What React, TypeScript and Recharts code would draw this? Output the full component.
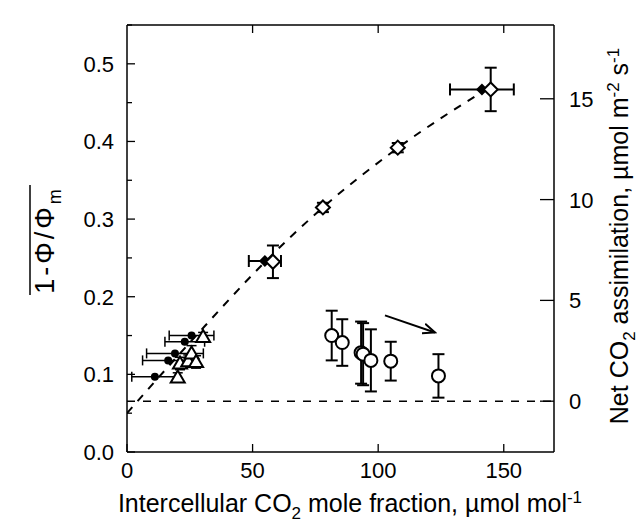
import React from 'react';
import {
  ComposedChart,
  Scatter,
  Line,
  XAxis,
  YAxis,
  ErrorBar
} from 'recharts';

// tick values
const xTicks = [0, 50, 100, 150];
const leftTicks = [0, 0.05, 0.1, 0.15, 0.2, 0.25, 0.3, 0.35, 0.4, 0.45, 0.5, 0.55];
const rightTicks = [0, 5, 10, 15];

// small filled circles, horizontal error bars
const dotCi = [11.1, 16.4, 19.1, 23.0, 25.7];
const dotPhi = [0.097, 0.118, 0.127, 0.142, 0.150];
const dotCiErr = [9.2, 10.2, 11.3, 7.9, 8.9];

// open triangles
const triCi = [20.2, 21.1, 24.4, 25.7, 27.5, 30.3];
const triPhi = [0.096, 0.114, 0.117, 0.127, 0.116, 0.148];
const triErr = [0.006, 0.008, 0.008, 0.01, 0.008, 0.006];

// open circles
const circCi = [81.5, 85.7, 93.2, 94.0, 97.1, 105.0, 124.0];
const circPhi = [0.150, 0.141, 0.128, 0.126, 0.118, 0.117, 0.098];
const circErr = [0.032, 0.03, 0.04, 0.04, 0.04, 0.025, 0.028];

// filled diamonds, horizontal error bars
const fdCi = [54.9, 141.3];
const fdPhi = [0.246, 0.467];
const fdCiErr = [6.4, 12.7];

// open diamonds
const odCi = [58.1, 78.0, 107.8, 144.8];
const odPhi = [0.245, 0.315, 0.392, 0.467];
const odErr = [0.021, 0.006, 0.006, 0.028];

// dashed fit through the diamonds
const fitCi = [0, 27, 55, 78, 108, 143];
const fitPhi = [0.05, 0.148, 0.245, 0.315, 0.392, 0.467];

// zero assimilation line (right axis)
const zeroCi = [0, 170];
const zeroA = [0, 0];

// arrow
const arrowCi = [102.7, 122.6];
const arrowPhi = [0.176, 0.154];

const FONT = '"Liberation Sans", Arial, Helvetica, sans-serif';

const dots = dotCi.map((x, i) => ({ x, y: dotPhi[i], ex: dotCiErr[i] }));
const tris = triCi.map((x, i) => ({ x, y: triPhi[i], ey: triErr[i] }));
const circs = circCi.map((x, i) => ({ x, y: circPhi[i], ey: circErr[i] }));
const fDiamonds = fdCi.map((x, i) => ({ x, y: fdPhi[i], ex: fdCiErr[i] }));
const oDiamonds = odCi.map((x, i) => ({ x, y: odPhi[i], ey: odErr[i] }));
const fit = fitCi.map((x, i) => ({ x, y: fitPhi[i] }));
const zero = zeroCi.map((x, i) => ({ x, y: zeroA[i] }));
const arrow = arrowCi.map((x, i) => ({ x, y: arrowPhi[i] }));

const SmallDot = (p: any) => <circle cx={p.cx} cy={p.cy} r={4} fill="#000" />;
const OpenCircle = (p: any) => (
  <circle cx={p.cx} cy={p.cy} r={6.5} fill="#fff" stroke="#000" strokeWidth={2} />
);
const Triangle = (p: any) => {
  const { cx, cy } = p;
  return (
    <polygon
      points={`${cx},${cy - 7} ${cx + 7},${cy + 5} ${cx - 7},${cy + 5}`}
      fill="#fff"
      stroke="#000"
      strokeWidth={2}
    />
  );
};
const FilledDiamond = (p: any) => {
  const { cx, cy } = p;
  return <polygon points={`${cx},${cy - 6} ${cx + 6},${cy} ${cx},${cy + 6} ${cx - 6},${cy}`} fill="#000" />;
};
const OpenDiamond = (p: any) => {
  const { cx, cy } = p;
  return (
    <polygon
      points={`${cx},${cy - 7} ${cx + 7},${cy} ${cx},${cy + 7} ${cx - 7},${cy}`}
      fill="#fff"
      stroke="#000"
      strokeWidth={2}
    />
  );
};

const TICK_FONT = 22;

const LeftTick = (p: any) => {
  const v = p.payload.value;
  const major = Math.round(v * 100) % 10 === 0;
  const ax = p.x + 13;
  return (
    <g>
      <line x1={ax} x2={ax + (major ? 8 : 5)} y1={p.y} y2={p.y} stroke="#000" strokeWidth={1.3} />
      {major && (
        <text x={p.x} y={p.y} dy="0.36em" textAnchor="end" fontSize={TICK_FONT} fontFamily={FONT} fill="#000">
          {v.toFixed(1)}
        </text>
      )}
    </g>
  );
};

const RightTick = (p: any) => {
  const ax = p.x - 15;
  return (
    <g>
      <line x1={ax} x2={ax - 14} y1={p.y} y2={p.y} stroke="#000" strokeWidth={1.3} />
      <text x={p.x} y={p.y} dy="0.36em" textAnchor="start" fontSize={TICK_FONT} fontFamily={FONT} fill="#000">
        {p.payload.value}
      </text>
    </g>
  );
};

const BottomTick = (p: any) => {
  const ay = p.y - 10;
  return (
    <g>
      <line x1={p.x} x2={p.x} y1={ay} y2={ay - 8} stroke="#000" strokeWidth={1.3} />
      <text x={p.x} y={p.y} dy="0.71em" textAnchor="middle" fontSize={TICK_FONT} fontFamily={FONT} fill="#000">
        {p.payload.value}
      </text>
    </g>
  );
};

const TopTick = (p: any) => (
  <line x1={p.x} x2={p.x} y1={p.y} y2={p.y + 8} stroke="#000" strokeWidth={1.3} />
);

const axisStroke = { stroke: '#000', strokeWidth: 1.5 };

export default function App() {
  return (
    <div style={{ position: 'relative', width: 642, height: 530, background: '#fff' }}>
      <style>{'body{margin:0}'}</style>
      <ComposedChart width={642} height={530} margin={{ top: 25, right: 0, bottom: 0, left: 0 }}>
        <XAxis
          dataKey="x"
          type="number"
          domain={[0, 170]}
          ticks={xTicks}
          height={78}
          axisLine={axisStroke}
          tickLine={false}
          tickSize={0}
          tickMargin={10}
          tick={<BottomTick />}
          interval={0}
          allowDataOverflow
        />
        <XAxis
          xAxisId="top"
          dataKey="x"
          type="number"
          orientation="top"
          mirror
          domain={[0, 170]}
          ticks={[50, 100, 150]}
          axisLine={axisStroke}
          tickLine={false}
          tickSize={0}
          tickMargin={0}
          tick={<TopTick />}
          interval={0}
          allowDataOverflow
        />
        <YAxis
          yAxisId="left"
          dataKey="y"
          type="number"
          domain={[0, 0.55]}
          ticks={leftTicks}
          width={127}
          axisLine={axisStroke}
          tickLine={false}
          tickSize={0}
          tickMargin={13}
          tick={<LeftTick />}
          interval={0}
          allowDataOverflow
        />
        <YAxis
          yAxisId="right"
          dataKey="y"
          orientation="right"
          type="number"
          domain={[-2.52, 18.66]}
          ticks={rightTicks}
          width={88}
          axisLine={axisStroke}
          tickLine={false}
          tickSize={0}
          tickMargin={15}
          tick={<RightTick />}
          interval={0}
          allowDataOverflow
        />
        <Line
          yAxisId="right"
          data={zero}
          dataKey="y"
          type="linear"
          stroke="#000"
          strokeWidth={1.5}
          strokeDasharray="8 8"
          dot={false}
          isAnimationActive={false}
        />
        <Line
          yAxisId="left"
          data={fit}
          dataKey="y"
          type="monotone"
          stroke="#000"
          strokeWidth={2}
          strokeDasharray="8 8"
          dot={false}
          isAnimationActive={false}
        />
        <Line
          yAxisId="left"
          data={arrow}
          dataKey="y"
          type="linear"
          stroke="#000"
          strokeWidth={2}
          dot={false}
          markerEnd="url(#arrowHead)"
          isAnimationActive={false}
        />
        <Scatter yAxisId="left" data={dots} dataKey="y" shape={<SmallDot />} isAnimationActive={false}>
          <ErrorBar dataKey="ex" direction="x" width={5} stroke="#000" strokeWidth={1.5} />
        </Scatter>
        <Scatter yAxisId="left" data={tris} dataKey="y" shape={<Triangle />} isAnimationActive={false}>
          <ErrorBar dataKey="ey" direction="y" width={5} stroke="#000" strokeWidth={1.5} />
        </Scatter>
        <Scatter yAxisId="left" data={circs} dataKey="y" shape={<OpenCircle />} isAnimationActive={false}>
          <ErrorBar dataKey="ey" direction="y" width={6} stroke="#000" strokeWidth={2} />
        </Scatter>
        <Scatter yAxisId="left" data={fDiamonds} dataKey="y" shape={<FilledDiamond />} isAnimationActive={false}>
          <ErrorBar dataKey="ex" direction="x" width={6} stroke="#000" strokeWidth={2} />
        </Scatter>
        <Scatter yAxisId="left" data={oDiamonds} dataKey="y" shape={<OpenDiamond />} isAnimationActive={false}>
          <ErrorBar dataKey="ey" direction="y" width={6} stroke="#000" strokeWidth={2} />
        </Scatter>
      </ComposedChart>
      <svg
        width={642}
        height={530}
        style={{ position: 'absolute', left: 0, top: 0, pointerEvents: 'none' }}
        fontFamily={FONT}
      >
        <defs>
          <marker id="arrowHead" markerWidth="14" markerHeight="12" refX="12" refY="6" orient="auto" markerUnits="userSpaceOnUse">
            <path d="M0,1 L12,6 L0,11" fill="none" stroke="#000" strokeWidth={2} />
          </marker>
        </defs>
        <text x={350} y={512} textAnchor="middle" fontSize={25} fill="#000">
          Intercellular CO
          <tspan dy={7} fontSize={17}>2</tspan>
          <tspan dy={-7}> mole fraction, µmol mol</tspan>
          <tspan dy={-9} fontSize={17}>-1</tspan>
        </text>
        <g transform="translate(628,236) rotate(-90)">
          <text x={0} y={0} textAnchor="middle" fontSize={25} fill="#000">
            Net CO
            <tspan dy={7} fontSize={17}>2</tspan>
            <tspan dy={-7}> assimilation, µmol m</tspan>
            <tspan dy={-9} fontSize={17}>-2</tspan>
            <tspan dy={9}> s</tspan>
            <tspan dy={-9} fontSize={17}>-1</tspan>
          </text>
        </g>
        <g transform="translate(54,240) rotate(-90)">
          <text x={0} y={0} textAnchor="middle" fontSize={27} letterSpacing={3} fill="#000">
            1-Φ/Φ
            <tspan dy={7} fontSize={18}>m</tspan>
          </text>
          <line x1={-55} x2={55} y1={-24} y2={-24} stroke="#000" strokeWidth={1.5} />
        </g>
      </svg>
    </div>
  );
}
